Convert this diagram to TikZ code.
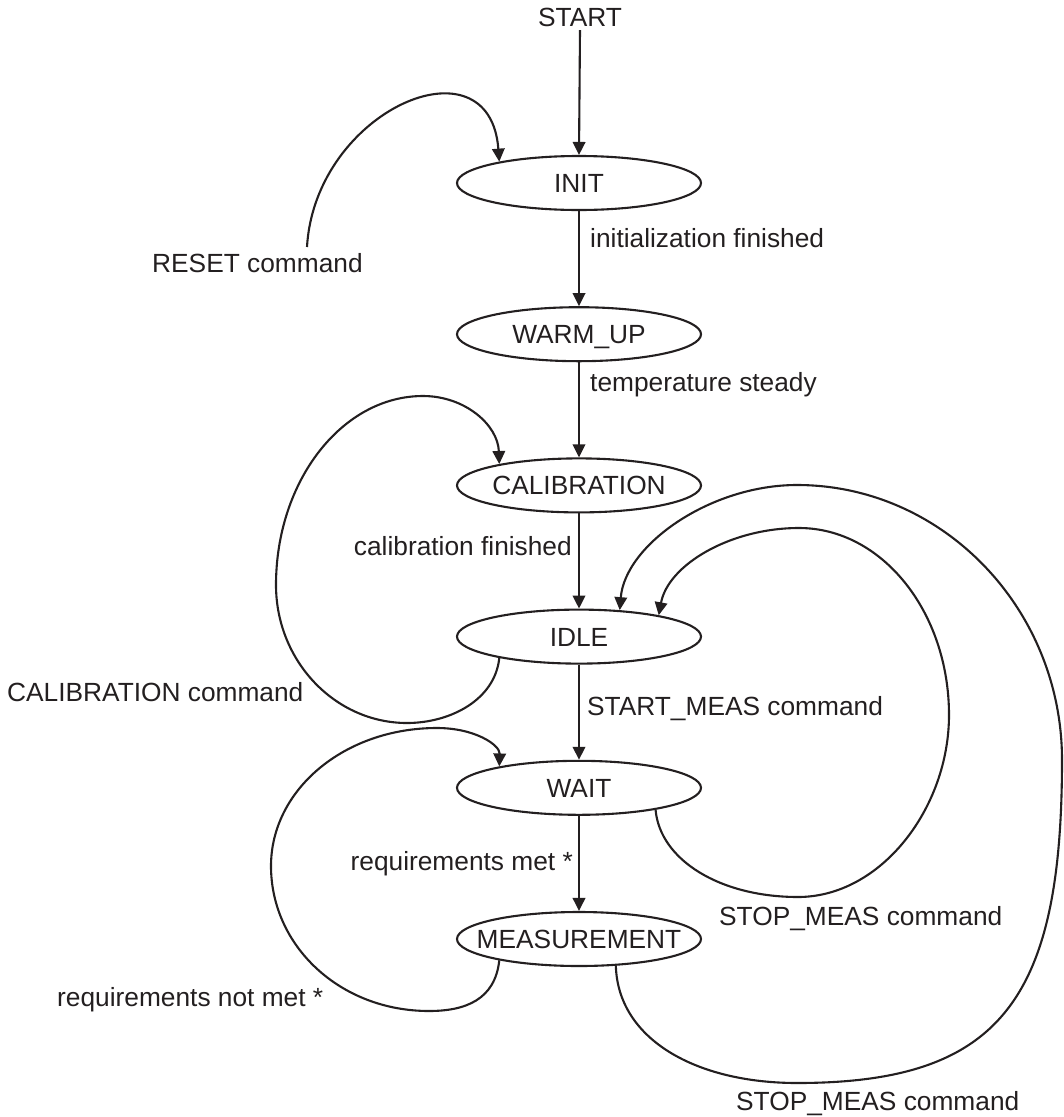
\documentclass[tikz,border=0pt]{standalone}
\usepackage{fontspec}
\setmainfont{Liberation Sans}
\usetikzlibrary{arrows.meta,shapes.geometric}
\definecolor{ink}{RGB}{35,31,32}
\begin{document}
\begin{tikzpicture}[x=1pt,y=-1pt,
  st/.style={draw=ink, ellipse, line width=2.1pt, minimum width=244pt, minimum height=54pt, inner sep=0pt},
  txt/.style={inner sep=0pt, text height=18.8pt, text depth=0pt, text=ink, font=\fontsize{26.3}{30}\selectfont},
  arr/.style={draw=ink, line width=2.1pt, -{Triangle[length=13pt,width=12.5pt]}}
]
\useasboundingbox (0,0) rectangle (1064,1117);

% states
\node[st] (init) at (579,183) {};
\node[st] (warm) at (579,334.2) {};
\node[st] (cal)  at (579,485.4) {};
\node[st] (idle) at (579,636.6) {};
\node[st] (wait) at (579,787.8) {};
\node[st] (meas) at (579,939) {};

\node[txt] (initL) at (init) {INIT};
\node[txt] (warmL) at (warm) {WARM\_UP};
\node[txt] (calL)  at (cal)  {CALIBRATION};
\node[txt] (idleL) at (idle) {IDLE};
\node[txt] (waitL) at (wait) {WAIT};
\node[txt] (measL) at (meas) {MEASUREMENT};

\node[txt, inner sep=3pt] (start) at (580,17.5) {START};

% straight transitions
\draw[arr] (start.south) -- (init.north);
\draw[arr] (init.south) -- (warm.north);
\draw[arr] (warm.south) -- (cal.north);
\draw[arr] (cal.south) -- (idle.north);
\draw[arr] (idle.south) -- (wait.north);
\draw[arr] (wait.south) -- (meas.north);

% labels
\node[txt, anchor=west] (lInit) at (590,238) {initialization finished};
\node[txt, anchor=west] (lTemp) at (590,382.5) {temperature steady};
\node[txt, anchor=east] (lCalF) at (572,546.5) {calibration finished};
\node[txt, anchor=west] (lStart) at (587,706) {START\_MEAS command};
\node[txt, anchor=east] (lReq) at (573,861) {requirements met *};
\node[txt, anchor=west] (lStop1) at (719,916) {STOP\_MEAS command};
\node[txt, anchor=west] (lStop2) at (736,1101) {STOP\_MEAS command};
\node[txt, anchor=west] (lReset) at (152,263.5) {RESET command};
\node[txt, anchor=west] (lCalC) at (7,692) {CALIBRATION command};
\node[txt, anchor=west] (lNot) at (57,997) {requirements not met *};

% RESET
\coordinate (rs) at (307,247);
\draw[arr] (rs) .. controls (315,110) and (490,35) .. (init.165);

% CALIBRATION command loop (IDLE -> CALIBRATION)
\draw[arr] (idle.195) .. controls (495,700) and (450,723) .. (407,723)
  .. controls (335,723) and (276,661) .. (276,585)
  .. controls (276,481) and (342,396) .. (423,396)
  .. controls (465,396) and (498,425) .. (cal.165);

% requirements not met loop (MEASUREMENT -> WAIT)
\draw[arr] (meas.195) .. controls (495,1000) and (465,1011) .. (429,1011)
  .. controls (340,1011) and (271,946) .. (271,866)
  .. controls (271,790) and (344,728) .. (437,728)
  .. controls (475,728) and (500,745) .. (wait.165);

% STOP_MEAS from WAIT -> IDLE
\draw[arr] (wait.344) .. controls (660,860) and (720,897) .. (798,897)
  .. controls (881,897) and (949,808) .. (949,715)
  .. controls (949,612) and (882,528) .. (799,528)
  .. controls (730,528) and (668,565) .. (idle.15);

% STOP_MEAS from MEASUREMENT -> IDLE
\draw[arr] (meas.324) .. controls (618,1040) and (697,1083) .. (797,1083)
  .. controls (1000,1083) and (1062,1000) .. (1062,760)
  .. controls (1062,609) and (943,485) .. (797,485)
  .. controls (710,485) and (625,545) .. (idle.33);
\end{tikzpicture}
\end{document}
